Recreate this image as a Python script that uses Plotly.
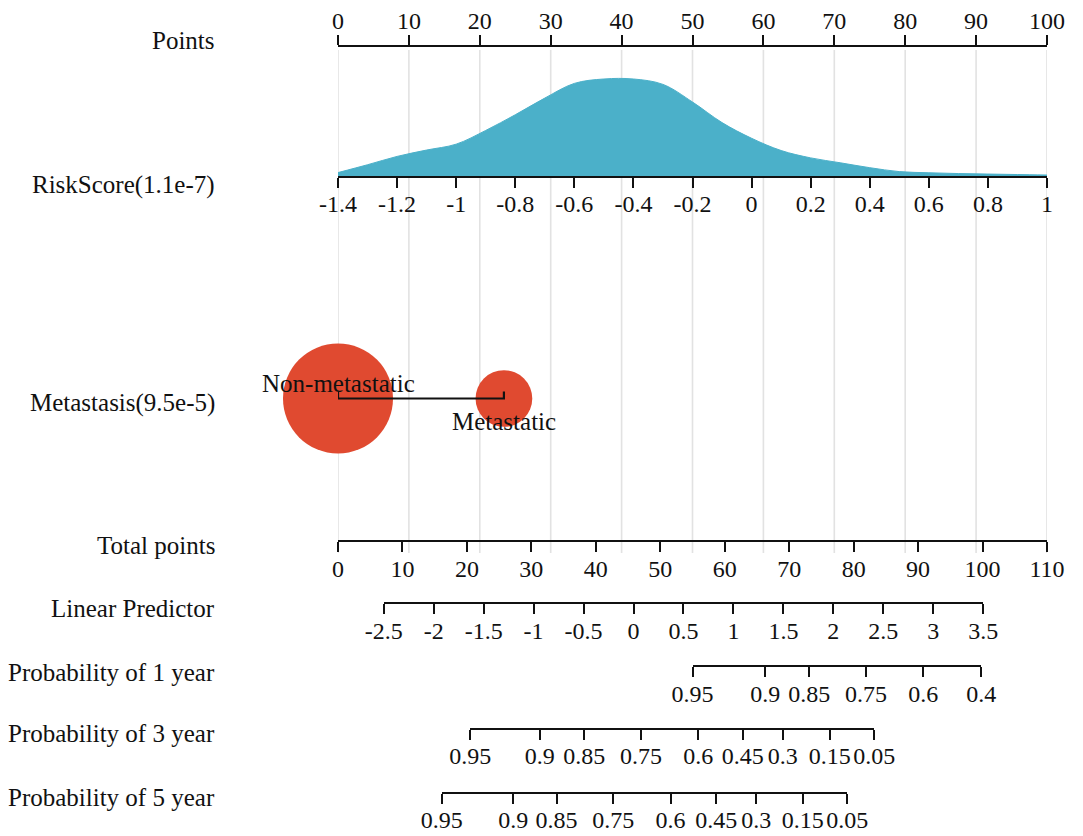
import math
import plotly.graph_objects as go

# ---------------- data ----------------
points_ticks = [0, 10, 20, 30, 40, 50, 60, 70, 80, 90, 100]

risk_ticks = [-1.4, -1.2, -1.0, -0.8, -0.6, -0.4, -0.2, 0.0, 0.2, 0.4, 0.6, 0.8, 1.0]
risk_labels = ["-1.4", "-1.2", "-1", "-0.8", "-0.6", "-0.4", "-0.2", "0", "0.2", "0.4", "0.6", "0.8", "1"]

# density of RiskScore (relative units)
risk_density_x = [-1.4, -1.3, -1.2, -1.1, -1.0, -0.9, -0.8, -0.7, -0.6, -0.5, -0.4, -0.3, -0.2,
                  -0.1, 0.0, 0.1, 0.2, 0.3, 0.4, 0.5, 0.6, 0.7, 0.8, 0.9, 1.0]
risk_density_y = [0.04, 0.12, 0.205, 0.27, 0.33, 0.47, 0.63, 0.80, 0.95, 0.995, 0.995, 0.94, 0.76,
                  0.55, 0.39, 0.265, 0.19, 0.14, 0.09, 0.05, 0.038, 0.03, 0.025, 0.02, 0.015]

metastasis_levels = ["Non-metastatic", "Metastatic"]
metastasis_points = [0.0, 23.4]
metastasis_share = [0.79, 0.21]

total_ticks = [0, 10, 20, 30, 40, 50, 60, 70, 80, 90, 100, 110]

lp_ticks = [-2.5, -2.0, -1.5, -1.0, -0.5, 0.0, 0.5, 1.0, 1.5, 2.0, 2.5, 3.0, 3.5]
lp_labels = ["-2.5", "-2", "-1.5", "-1", "-0.5", "0", "0.5", "1", "1.5", "2", "2.5", "3", "3.5"]
lp_total_points = [7.1, 100.1]          # total points at LP = -2.5 and LP = 3.5

prob1_labels = ["0.95", "0.9", "0.85", "0.75", "0.6", "0.4"]
prob1_total_points = [55.0, 66.3, 73.1, 81.9, 90.8, 99.8]

prob3_labels = ["0.95", "0.9", "0.85", "0.75", "0.6", "0.45", "0.3", "0.15", "0.05"]
prob3_total_points = [20.5, 31.3, 38.2, 47.0, 55.9, 62.8, 69.0, 76.3, 83.2]

prob5_labels = ["0.95", "0.9", "0.85", "0.75", "0.6", "0.45", "0.3", "0.15", "0.05"]
prob5_total_points = [16.1, 27.2, 33.9, 42.7, 51.6, 58.7, 64.9, 72.1, 79.0]

row_titles = ["Points", "RiskScore(1.1e-7)", "Metastasis(9.5e-5)", "Total points",
              "Linear Predictor", "Probability of 1 year", "Probability of 3 year",
              "Probability of 5 year"]

# ---------------- layout constants ----------------
W, H = 1083, 836
X0, X1 = 338, 1047          # pixel extent of the points scale
FONT = "Liberation Serif"
TICK_SIZE = 24
TITLE_SIZE = 25
INK = "#111111"
RED = "#E04A30"
CYAN = "#4BB0C9"
GRID = "#E2E2E2"
CLEAR = "rgba(0,0,0,0)"

row_y = {  # pixel rows (y axis runs top->bottom in pixels)
    "points": 46, "risk": 176.5, "met": 398.5, "total": 541,
    "lp": 603, "p1": 666, "p3": 728.5, "p5": 792.5,
}
title_y = [40, 185, 403, 545, 608, 672, 733, 797]

TOTAL_MAX = total_ticks[-1]


def tp_to_frac(tp):
    return (X0 + tp / TOTAL_MAX * (X1 - X0)) / W


fig = go.Figure()

# grid lines from the points scale
gx, gy = [], []
for t in points_ticks:
    gx += [t, t, None]
    gy += [50, 553, None]
fig.add_trace(go.Scatter(x=gx, y=gy, mode="lines", line=dict(color=GRID, width=1.6),
                         xaxis="x", yaxis="y", hoverinfo="skip", showlegend=False, cliponaxis=False))

# density of risk score
DENS_H = 98
base = row_y["risk"]
fig.add_trace(go.Scatter(x=[risk_ticks[0], risk_ticks[-1]], y=[base, base], mode="lines",
                         line=dict(width=0, color=CYAN), xaxis="x2", yaxis="y",
                         hoverinfo="skip", showlegend=False))
fig.add_trace(go.Scatter(x=risk_density_x, y=[base - d * DENS_H for d in risk_density_y],
                         mode="lines", line=dict(color=CYAN, width=1, shape="spline", smoothing=1.0),
                         fill="tonexty", fillcolor=CYAN, xaxis="x2", yaxis="y",
                         hoverinfo="skip", showlegend=False))

# metastasis circles
K = 110 / math.sqrt(0.79)
fig.add_trace(go.Scatter(x=metastasis_points, y=[row_y["met"]] * 2, mode="markers",
                         marker=dict(size=[K * math.sqrt(s) for s in metastasis_share],
                                     color=RED, opacity=1, line=dict(width=0)),
                         xaxis="x", yaxis="y", hoverinfo="skip", showlegend=False, cliponaxis=False))
my = row_y["met"]
fig.add_trace(go.Scatter(x=[metastasis_points[0], metastasis_points[0], metastasis_points[1], metastasis_points[1]],
                         y=[my - 7, my, my, my - 7], mode="lines",
                         line=dict(color=INK, width=2.2), xaxis="x", yaxis="y",
                         hoverinfo="skip", showlegend=False, cliponaxis=False))
for i, (lev, p) in enumerate(zip(metastasis_levels, metastasis_points)):
    fig.add_annotation(x=p, y=my - 15 if i % 2 == 0 else my + 23, xref="x", yref="y",
                       text=lev, showarrow=False, font=dict(family=FONT, size=TITLE_SIZE, color=INK),
                       xanchor="center", yanchor="middle")

# row titles
for t, y in zip(row_titles, title_y):
    fig.add_annotation(x=217 / W, y=y, xref="paper", yref="y", text=t, showarrow=False,
                       font=dict(family=FONT, size=TITLE_SIZE, color=INK),
                       xanchor="right", yanchor="middle")

# invisible anchor traces for every extra axis
axes_spec = [
    ("x2", risk_ticks), ("x3", total_ticks), ("x4", lp_ticks),
    ("x5", prob1_total_points), ("x6", prob3_total_points), ("x7", prob5_total_points),
]
for ax, vals in axes_spec:
    fig.add_trace(go.Scatter(x=vals, y=[-50] * len(vals), mode="markers",
                             marker=dict(opacity=0), xaxis=ax, yaxis="y",
                             hoverinfo="skip", showlegend=False))

common = dict(showline=True, linecolor=INK, linewidth=2, ticks="outside", ticklen=10,
              tickwidth=2, tickcolor=INK, showgrid=False, zeroline=False, anchor="free",
              automargin=False, ticklabelstandoff=-4,
              tickfont=dict(family=FONT, size=TICK_SIZE, color=INK), fixedrange=True)

full_dom = [X0 / W, X1 / W]


def pos(y):
    return 1 - y / H


lp_dom = [tp_to_frac(lp_total_points[0]), tp_to_frac(lp_total_points[1])]

fig.update_layout(
    template="none",
    width=W, height=H, autosize=False,
    margin=dict(l=0, r=0, t=0, b=0, pad=0),
    paper_bgcolor="white", plot_bgcolor=CLEAR,
    showlegend=False,
    font=dict(family=FONT, color=INK),
    yaxis=dict(range=[H, 0], domain=[0, 1], visible=False, fixedrange=True, automargin=False),
    xaxis=dict(domain=full_dom, range=[points_ticks[0], points_ticks[-1]], side="top",
               position=pos(row_y["points"]), tickvals=points_ticks,
               ticktext=[str(t) for t in points_ticks], **common),
    xaxis2=dict(domain=full_dom, range=[risk_ticks[0], risk_ticks[-1]], side="bottom",
                position=pos(row_y["risk"]), tickvals=risk_ticks, ticktext=risk_labels, **common),
    xaxis3=dict(domain=full_dom, range=[total_ticks[0], total_ticks[-1]], side="bottom",
                position=pos(row_y["total"]), tickvals=total_ticks,
                ticktext=[str(t) for t in total_ticks], **common),
    xaxis4=dict(domain=lp_dom, range=[lp_ticks[0], lp_ticks[-1]], side="bottom",
                position=pos(row_y["lp"]), tickvals=lp_ticks, ticktext=lp_labels, **common),
    xaxis5=dict(domain=[tp_to_frac(prob1_total_points[0]), tp_to_frac(prob1_total_points[-1])],
                range=[prob1_total_points[0], prob1_total_points[-1]], side="bottom",
                position=pos(row_y["p1"]), tickvals=prob1_total_points, ticktext=prob1_labels, **common),
    xaxis6=dict(domain=[tp_to_frac(prob3_total_points[0]), tp_to_frac(prob3_total_points[-1])],
                range=[prob3_total_points[0], prob3_total_points[-1]], side="bottom",
                position=pos(row_y["p3"]), tickvals=prob3_total_points, ticktext=prob3_labels, **common),
    xaxis7=dict(domain=[tp_to_frac(prob5_total_points[0]), tp_to_frac(prob5_total_points[-1])],
                range=[prob5_total_points[0], prob5_total_points[-1]], side="bottom",
                position=pos(row_y["p5"]), tickvals=prob5_total_points, ticktext=prob5_labels, **common),
)

fig.write_html("out.html", config={"displayModeBar": False})
